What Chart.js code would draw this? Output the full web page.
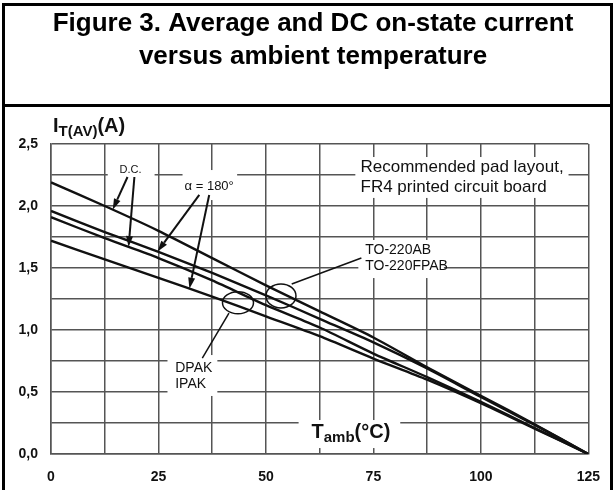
<!DOCTYPE html>
<html>
<head>
<meta charset="utf-8">
<script src="https://cdn.jsdelivr.net/npm/chart.js@4.4.1/dist/chart.umd.min.js"></script>
<style>
  html, body { margin: 0; padding: 0; background: #fff; }
  #wrap { width: 615px; height: 490px; }
</style>
</head>
<body>
<div id="wrap"><canvas id="currentChart" width="615" height="490"></canvas></div>
<script>
// ambient temperature (°C)
const tempC = [0, 12.5, 25, 37.5, 50, 62.5, 75, 87.5, 100, 112.5, 125];
// average / DC on-state current (A)
const to220Dc    = [2.19, 2.00, 1.80, 1.58, 1.36, 1.15, 0.94, 0.70, 0.47, 0.24, 0];
const to220Alpha = [1.96, 1.79, 1.63, 1.46, 1.28, 1.09, 0.90, 0.69, 0.46, 0.235, 0];
const dpakDc     = [1.91, 1.74, 1.58, 1.40, 1.20, 1.02, 0.81, 0.62, 0.42, 0.21, 0];
const dpakAlpha  = [1.72, 1.57, 1.42, 1.27, 1.11, 0.95, 0.77, 0.60, 0.41, 0.205, 0];
const xTickLabels = [0, 25, 50, 75, 100, 125];
const yTickLabels = [0, 0.5, 1.0, 1.5, 2.0, 2.5];

const series = [to220Dc, to220Alpha, dpakDc, dpakAlpha];
const FONT = '"Liberation Sans", Arial, Helvetica, sans-serif';
const INK = '#111';

// current on a curve at temperature t (straight between samples)
function currentAt(arr, t) {
  for (let k = 0; k < tempC.length - 1; k++) {
    if (t >= tempC[k] && t <= tempC[k + 1]) {
      const f = (t - tempC[k]) / (tempC[k + 1] - tempC[k]);
      return arr[k] + f * (arr[k + 1] - arr[k]);
    }
  }
  return arr[arr.length - 1];
}

// notes on the plot, placed in axis units (°C, A)
const blankBoxes = [
  [13.2, 2.371, 24.1, 2.210],   // D.C.
  [30.6, 2.290, 43.3, 2.048],   // alpha = 180
  [70.8, 2.395, 120.4, 2.065],  // pad layout note
  [71.5, 1.726, 91.4, 1.419],   // TO-220 packages
  [27.1, 0.798, 38.7, 0.468],   // DPAK / IPAK
  [57.6, 0.274, 81.25, 0.048]   // x axis title
];
const notes = [
  { t: 18.5, i: 2.29, lines: ['D.C.'], size: 11, align: 'center', base: 'middle' },
  { t: 36.8, i: 2.161, lines: ['\u03b1 = 180\u00b0'], size: 13, align: 'center', base: 'middle' },
  { t: 72.0, i: 2.274, lines: ['Recommended pad layout,', 'FR4 printed circuit board'], size: 17, gap: 20 },
  { t: 73.1, i: 1.613, lines: ['TO-220AB', 'TO-220FPAB'], size: 14, gap: 16 },
  { t: 28.9, i: 0.661, lines: ['DPAK', 'IPAK'], size: 14, gap: 16 }
];
const arrows = [
  { t: 17.8, i: 2.234, curve: 0, at: 14.35 },
  { t: 19.4, i: 2.234, curve: 2, at: 18.05 },
  { t: 34.5, i: 2.089, curve: 1, at: 24.8 },
  { t: 36.8, i: 2.089, curve: 3, at: 32.2 }
];
const rings = [
  { t: 53.5, i: 1.275, rx: 15, ry: 12 },
  { t: 43.5, i: 1.22, rx: 15.5, ry: 11 }
];
const leaders = [
  [72.2, 1.581, 56.0, 1.371],
  [41.4, 1.137, 35.2, 0.774]
];

function toPx(chart, t, i) {
  return [chart.scales.x.getPixelForValue(t), chart.scales.y.getPixelForValue(i)];
}

// text with a lowered, smaller middle part (e.g. I_T(AV))
function drawSubscripted(ctx, x, y, parts) {
  ctx.textAlign = 'left';
  ctx.textBaseline = 'alphabetic';
  parts.forEach(p => {
    ctx.font = 'bold ' + p.size + 'px ' + FONT;
    ctx.fillText(p.text, x, y + (p.dy || 0));
    x += ctx.measureText(p.text).width;
  });
}

const sheetPlugin = {
  id: 'sheet',
  beforeDraw(chart) {
    const ctx = chart.ctx;
    ctx.save();
    ctx.fillStyle = '#fff';
    ctx.fillRect(0, 0, chart.width, chart.height);
    // frame and title
    ctx.strokeStyle = '#000';
    ctx.lineWidth = 3;
    ctx.beginPath();
    ctx.moveTo(3.5, 492); ctx.lineTo(3.5, 4.5); ctx.lineTo(611.5, 4.5); ctx.lineTo(611.5, 492);
    ctx.moveTo(3.5, 105.5); ctx.lineTo(611.5, 105.5);
    ctx.stroke();
    ctx.fillStyle = '#000';
    ctx.font = 'bold 26px ' + FONT;
    ctx.textAlign = 'center';
    ctx.textBaseline = 'alphabetic';
    ctx.fillText('Figure 3. Average and DC on-state current', 313, 31);
    ctx.fillText('versus ambient temperature', 313, 64);
    ctx.restore();
  },
  beforeDatasetsDraw(chart) {
    const ctx = chart.ctx;
    ctx.save();
    ctx.fillStyle = '#fff';
    blankBoxes.forEach(b => {
      const [x0, y0] = toPx(chart, b[0], b[1]);
      const [x1, y1] = toPx(chart, b[2], b[3]);
      ctx.fillRect(x0, y0, x1 - x0, y1 - y0);
    });
    ctx.restore();
  },
  afterDatasetsDraw(chart) {
    const ctx = chart.ctx;
    const area = chart.chartArea;
    ctx.save();
    ctx.fillStyle = INK;
    ctx.strokeStyle = INK;

    notes.forEach(n => {
      const [x, y] = toPx(chart, n.t, n.i);
      ctx.font = n.size + 'px ' + FONT;
      ctx.textAlign = n.align || 'left';
      ctx.textBaseline = n.base || 'alphabetic';
      n.lines.forEach((s, k) => ctx.fillText(s, x, y + k * (n.gap || 0)));
    });

    ctx.lineWidth = 2;
    arrows.forEach(a => {
      const [x0, y0] = toPx(chart, a.t, a.i);
      const [x1, y1] = toPx(chart, a.at, currentAt(series[a.curve], a.at));
      const ang = Math.atan2(y1 - y0, x1 - x0);
      const head = 11, half = 3.5;
      const bx = x1 - head * Math.cos(ang), by = y1 - head * Math.sin(ang);
      ctx.beginPath();
      ctx.moveTo(x0, y0); ctx.lineTo(bx, by);
      ctx.stroke();
      ctx.beginPath();
      ctx.moveTo(x1, y1);
      ctx.lineTo(bx + half * Math.sin(ang), by - half * Math.cos(ang));
      ctx.lineTo(bx - half * Math.sin(ang), by + half * Math.cos(ang));
      ctx.closePath();
      ctx.fill();
    });

    ctx.lineWidth = 1.5;
    rings.forEach(r => {
      const [x, y] = toPx(chart, r.t, r.i);
      ctx.beginPath();
      ctx.ellipse(x, y, r.rx, r.ry, 0, 0, Math.PI * 2);
      ctx.stroke();
    });
    leaders.forEach(l => {
      const [x0, y0] = toPx(chart, l[0], l[1]);
      const [x1, y1] = toPx(chart, l[2], l[3]);
      ctx.beginPath();
      ctx.moveTo(x0, y0); ctx.lineTo(x1, y1);
      ctx.stroke();
    });

    // axis titles
    drawSubscripted(ctx, area.left + 2, area.top - 12, [
      { text: 'I', size: 20 },
      { text: 'T(AV)', size: 15, dy: 4 },
      { text: '(A)', size: 20 }
    ]);
    const [tx, ty] = toPx(chart, 60.6, 0.129);
    drawSubscripted(ctx, tx, ty, [
      { text: 'T', size: 20 },
      { text: 'amb', size: 15, dy: 4 },
      { text: '(\u00b0C)', size: 20 }
    ]);
    ctx.restore();
  }
};

const gridStyle = { color: '#555', lineWidth: 1.5, drawTicks: false };
const borderStyle = { color: '#555', width: 1.5 };

new Chart(document.getElementById('currentChart').getContext('2d'), {
  type: 'line',
  data: {
    datasets: series.map(arr => ({
      data: tempC.map((t, k) => ({ x: t, y: arr[k] })),
      borderColor: INK,
      borderWidth: 2.4,
      pointRadius: 0,
      tension: 0.25,
      fill: false
    }))
  },
  options: {
    responsive: false,
    animation: false,
    devicePixelRatio: 1,
    layout: { padding: { top: 144, right: 24, bottom: 0, left: 0 } },
    plugins: { legend: { display: false }, tooltip: { enabled: false } },
    scales: {
      x: {
        type: 'linear',
        min: 0,
        max: 125,
        grid: gridStyle,
        border: borderStyle,
        afterFit: s => { s.height = 36; },
        ticks: {
          stepSize: 12.5,
          padding: 15,
          maxRotation: 0,
          autoSkip: false,
          color: INK,
          font: { family: FONT, size: 14, weight: 'bold' },
          callback: v => xTickLabels.includes(v) ? String(v) : ''
        }
      },
      y: {
        min: 0,
        max: 2.5,
        grid: gridStyle,
        border: borderStyle,
        afterFit: s => { s.width = 51; },
        ticks: {
          stepSize: 0.25,
          padding: 13,
          autoSkip: false,
          color: INK,
          font: { family: FONT, size: 14, weight: 'bold' },
          callback: v => yTickLabels.some(y => Math.abs(y - v) < 1e-6) ? v.toFixed(1).replace('.', ',') : ''
        }
      }
    }
  },
  plugins: [sheetPlugin]
});
</script>
</body>
</html>
